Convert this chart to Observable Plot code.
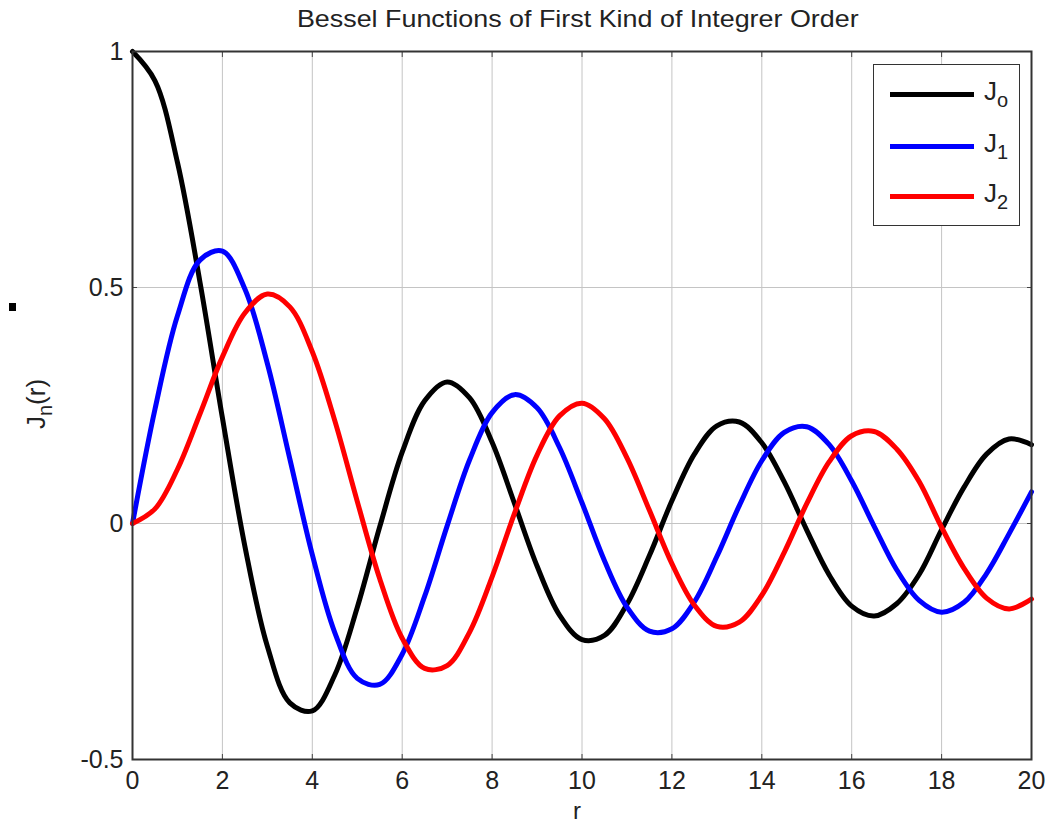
<!DOCTYPE html>
<html>
<head>
<meta charset="utf-8">
<script src="https://cdn.jsdelivr.net/npm/d3@7"></script>
<script src="https://cdn.jsdelivr.net/npm/@observablehq/plot@0.6"></script>
<style>
  html, body { margin: 0; padding: 0; background: #fff; }
  #wrap { position: relative; width: 1060px; height: 825px; font-family: "Liberation Sans", Arial, sans-serif; color: #222; overflow: hidden; }
  #chart { position: absolute; left: 0; top: 0; }
  .lbl { position: absolute; font-size: 24px; color: #222; white-space: nowrap; }
  #title { left: 0; width: 1156px; top: 5px; text-align: center; }
  #title span { display: inline-block; transform: scaleX(1.12); }
  #xlab { left: 573px; top: 799px; line-height: 1; }
  #ylab { left: 39px; top: 404px; font-size: 26px; transform: translate(-50%, -50%) rotate(-90deg); }
  #legend { position: absolute; left: 873px; top: 64px; width: 145px; height: 160px; border: 1.5px solid #333; background: #fff; }
  .row { position: absolute; left: 16px; height: 30px; display: flex; align-items: center; }
  .sw { width: 84px; height: 5px; margin-right: 10px; }
  .row span { font-size: 26px; color: #222; }
  sub { font-size: 20px; vertical-align: -7px; }
  #dot { position: absolute; left: 9px; top: 303px; width: 7px; height: 8px; background: #000; }
</style>
</head>
<body>
<div id="wrap">
  <div id="chart"></div>
  <div id="title" class="lbl"><span>Bessel Functions of First Kind of Integrer Order</span></div>
  <div id="xlab" class="lbl">r</div>
  <div id="ylab" class="lbl">J<sub>n</sub>(r)</div>
  <div id="dot"></div>
  <div id="legend"></div>
</div>
<script>
const rValues = [0,0.5,1,1.5,2,2.5,3,3.5,4,4.5,5,5.5,6,6.5,7,7.5,8,8.5,9,9.5,10,10.5,11,11.5,12,12.5,13,13.5,14,14.5,15,15.5,16,16.5,17,17.5,18,18.5,19,19.5,20];
const j0Values = [1,0.938,0.765,0.512,0.224,-0.048,-0.260,-0.380,-0.397,-0.321,-0.178,-0.007,0.151,0.260,0.300,0.266,0.172,0.042,-0.090,-0.194,-0.246,-0.237,-0.171,-0.068,0.048,0.147,0.207,0.215,0.171,0.088,-0.014,-0.109,-0.175,-0.196,-0.170,-0.108,-0.013,0.077,0.147,0.179,0.167];
const j1Values = [0,0.242,0.440,0.558,0.577,0.497,0.339,0.137,-0.066,-0.231,-0.328,-0.341,-0.277,-0.154,-0.005,0.135,0.235,0.273,0.245,0.161,0.044,-0.079,-0.177,-0.228,-0.223,-0.166,-0.070,0.038,0.133,0.193,0.205,0.167,0.090,-0.006,-0.098,-0.163,-0.188,-0.167,-0.106,-0.022,0.067];
const j2Values = [0,0.031,0.115,0.232,0.353,0.446,0.486,0.459,0.364,0.218,0.047,-0.117,-0.243,-0.307,-0.301,-0.230,-0.113,0.022,0.145,0.228,0.255,0.222,0.139,0.028,-0.085,-0.173,-0.218,-0.209,-0.152,-0.061,0.042,0.131,0.186,0.195,0.158,0.089,-0.008,-0.095,-0.158,-0.181,-0.160];
const seriesNames = ["J0","J1","J2"];
const seriesLabels = ["o","1","2"];
const seriesColors = ["#000000","#0000ff","#ff0000"];
const xTicks = [0,2,4,6,8,10,12,14,16,18,20];
const yTicks = [-0.5,0,0.5,1];

const allSeries = [j0Values, j1Values, j2Values];
const data = [];
allSeries.forEach((vals, s) => vals.forEach((v, i) => data.push({r: rValues[i], v, s: seriesNames[s]})));

const fmt = d => String(d);
const blank = () => "";
const plot = Plot.plot({
  width: 1060,
  height: 825,
  marginLeft: 132,
  marginRight: 29,
  marginTop: 51,
  marginBottom: 66,
  style: {fontFamily: '"Liberation Sans", Arial, sans-serif', fontSize: "25px", color: "#222", background: "#fff", overflow: "visible"},
  x: {domain: [0, 20], ticks: xTicks, label: null},
  y: {domain: [-0.5, 1], ticks: yTicks, label: null},
  color: {domain: seriesNames, range: seriesColors},
  marks: [
    Plot.gridX(xTicks, {stroke: "#c4c4c4", strokeOpacity: 1, strokeWidth: 1}),
    Plot.gridY(yTicks, {stroke: "#c4c4c4", strokeOpacity: 1, strokeWidth: 1}),
    Plot.axisX(xTicks, {anchor: "bottom", tickSize: 0, tickPadding: 12, tickFormat: fmt, fontSize: 25, label: null}),
    Plot.axisY(yTicks, {anchor: "left", tickSize: 0, tickPadding: 9, tickFormat: fmt, fontSize: 25, label: null}),
    Plot.axisX(xTicks, {anchor: "bottom", tickSize: -5, tickFormat: blank, label: null, stroke: "#444"}),
    Plot.axisX(xTicks, {anchor: "top", tickSize: -5, tickFormat: blank, label: null, stroke: "#444"}),
    Plot.axisY(yTicks, {anchor: "left", tickSize: -5, tickFormat: blank, label: null, stroke: "#444"}),
    Plot.axisY(yTicks, {anchor: "right", tickSize: -5, tickFormat: blank, label: null, stroke: "#444"}),
    Plot.line(data, {x: "r", y: "v", z: "s", stroke: "s", strokeWidth: 5, curve: "catmull-rom"}),
    Plot.frame({stroke: "#333", strokeWidth: 2})
  ]
});
document.getElementById("chart").appendChild(plot);

const legend = document.getElementById("legend");
const rowTops = [14, 66, 116];
seriesNames.forEach((n, i) => {
  const row = document.createElement("div");
  row.className = "row";
  row.style.top = rowTops[i] + "px";
  row.innerHTML = `<div class="sw" style="background:${seriesColors[i]}"></div><span>J<sub>${seriesLabels[i]}</sub></span>`;
  legend.appendChild(row);
});
</script>
</body>
</html>
